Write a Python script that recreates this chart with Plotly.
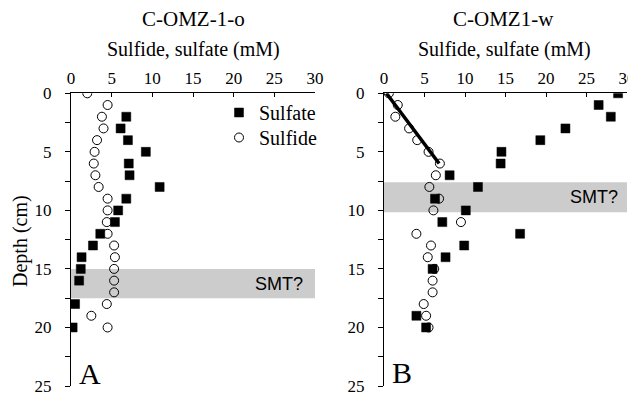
import plotly.graph_objects as go

# ---- Data ----
# Panel A: C-OMZ-1-o
a_sulfate_depth = [2, 3, 4, 5, 6, 7, 8, 9, 10, 11, 12, 13, 14, 15, 16, 18, 20]
a_sulfate_conc = [6.8, 6.1, 7.0, 9.2, 7.1, 7.2, 10.9, 6.8, 5.8, 5.4, 3.6, 2.7, 1.3, 1.2, 1.0, 0.5, 0.2]
a_sulfide_depth = [0, 1, 2, 3, 4, 5, 6, 7, 8, 9, 10, 11, 12, 13, 14, 15, 16, 17, 18, 19, 20]
a_sulfide_conc = [2.0, 4.5, 3.8, 4.0, 3.2, 2.9, 2.8, 3.0, 3.4, 4.5, 4.5, 4.4, 4.5, 5.3, 5.4, 5.3, 5.3, 5.3, 4.4, 2.5, 4.5]
a_smt = [15.0, 17.5]

# Panel B: C-OMZ1-w
b_sulfate_depth = [0, 1, 2, 3, 4, 5, 6, 7, 8, 9, 10, 11, 12, 13, 14, 15, 19, 20]
b_sulfate_conc = [28.9, 26.5, 28.0, 22.4, 19.3, 14.5, 14.4, 8.1, 11.6, 6.3, 10.1, 7.2, 16.8, 9.9, 7.6, 6.0, 4.0, 5.2]
b_sulfide_depth = [0, 1, 2, 3, 4, 5, 6, 7, 8, 9, 10, 11, 12, 13, 14, 15, 16, 17, 18, 19, 20]
b_sulfide_conc = [0.6, 1.7, 1.4, 3.1, 4.1, 5.5, 6.9, 6.4, 5.6, 6.8, 6.1, 9.5, 4.0, 5.8, 5.4, 6.2, 6.0, 6.0, 4.9, 5.2, 5.5]
b_fit_conc = [0.3, 6.8]
b_fit_depth = [0, 6]
b_smt = [7.6, 10.15]

titles = ["C-OMZ-1-o", "C-OMZ1-w"]
panel_labels = ["A", "B"]
x_title = "Sulfide, sulfate (mM)"
y_title = "Depth (cm)"
x_ticks = [0, 5, 10, 15, 20, 25, 30]
y_ticks = [0, 5, 10, 15, 20, 25]

# page is 636x399 with an 8px body margin -> figure occupies 628x391 starting at (8, 8)
OFF = 8
W, H = 636 - OFF, 399 - OFF
SERIF = "Liberation Serif"
SANS = "Liberation Sans"


def fx(px):
    return (px - OFF) / W


def fy(py):
    return 1 - (py - OFF) / H


fig = go.Figure()

sq = dict(symbol="square", size=9, color="black", line=dict(color="black", width=0.5))
ci = dict(symbol="circle-open", size=9, color="black", line=dict(color="black", width=1))

fig.add_trace(go.Scatter(x=a_sulfate_conc, y=a_sulfate_depth, mode="markers", marker=sq,
                         name="Sulfate", xaxis="x", yaxis="y", showlegend=True, legend="legend"))
fig.add_trace(go.Scatter(x=a_sulfide_conc, y=a_sulfide_depth, mode="markers", marker=ci,
                         name="Sulfide", xaxis="x", yaxis="y", showlegend=True, legend="legend2"))
fig.add_trace(go.Scatter(x=b_fit_conc, y=b_fit_depth, mode="lines", line=dict(color="black", width=3.5),
                         xaxis="x2", yaxis="y2", showlegend=False))
fig.add_trace(go.Scatter(x=b_sulfate_conc, y=b_sulfate_depth, mode="markers", marker=sq,
                         xaxis="x2", yaxis="y2", showlegend=False))
fig.add_trace(go.Scatter(x=b_sulfide_conc, y=b_sulfide_depth, mode="markers", marker=ci,
                         xaxis="x2", yaxis="y2", showlegend=False))

ydom = [fy(386), fy(93.3)]


def xax(domain, anchor):
    return dict(domain=domain, anchor=anchor, side="top", range=[0, 30], tickvals=x_ticks,
                ticks="inside", ticklen=4, tickwidth=1, tickcolor="black", showline=True,
                linecolor="black", linewidth=1, showgrid=False, zeroline=False, automargin=False,
                tickfont=dict(family=SERIF, size=17, color="black"), ticklabelstandoff=2)


def yax(anchor):
    return dict(domain=ydom, anchor=anchor, range=[25, 0], tickvals=y_ticks,
                ticks="outside", ticklen=5, tickwidth=1, tickcolor="black", showline=True,
                linecolor="black", linewidth=1, showgrid=False, zeroline=False, automargin=False,
                minor=dict(dtick=2.5, tick0=0, ticks="outside", ticklen=5, tickcolor="black"),
                tickfont=dict(family=SERIF, size=17, color="black"), ticklabelstandoff=10)


shapes = [
    dict(type="rect", xref="x", yref="y", x0=0, x1=30, y0=a_smt[0], y1=a_smt[1],
         fillcolor="#cccccc", line=dict(width=0), layer="below"),
    dict(type="rect", xref="x2", yref="y2", x0=0, x1=30, y0=b_smt[0], y1=b_smt[1],
         fillcolor="#cccccc", line=dict(width=0), layer="below"),
]

annotations = [
    dict(text=titles[0], x=fx(193), y=fy(19), xref="paper", yref="paper", showarrow=False,
         xanchor="center", yanchor="middle", font=dict(family=SERIF, size=21, color="black")),
    dict(text=titles[1], x=fx(503), y=fy(19), xref="paper", yref="paper", showarrow=False,
         xanchor="center", yanchor="middle", font=dict(family=SERIF, size=21, color="black")),
    dict(text=x_title, x=fx(193), y=fy(50), xref="paper", yref="paper", showarrow=False,
         xanchor="center", yanchor="middle", font=dict(family=SERIF, size=20, color="black")),
    dict(text=x_title, x=fx(504), y=fy(50), xref="paper", yref="paper", showarrow=False,
         xanchor="center", yanchor="middle", font=dict(family=SERIF, size=20, color="black")),
    dict(text=y_title, x=fx(20), y=fy(241), xref="paper", yref="paper", showarrow=False,
         textangle=-90, xanchor="center", yanchor="middle", font=dict(family=SERIF, size=20, color="black")),
    dict(text="SMT?", x=28.8, y=sum(a_smt) / 2, xref="x", yref="y", showarrow=False,
         xanchor="right", yanchor="middle", font=dict(family=SANS, size=18, color="black")),
    dict(text="SMT?", x=29.1, y=sum(b_smt) / 2, xref="x2", yref="y2", showarrow=False,
         xanchor="right", yanchor="middle", font=dict(family=SANS, size=18, color="black")),
    dict(text=panel_labels[0], x=fx(90), y=fy(373), xref="paper", yref="paper", showarrow=False,
         xanchor="center", yanchor="middle", font=dict(family=SERIF, size=30, color="black")),
    dict(text=panel_labels[1], x=fx(402), y=fy(372), xref="paper", yref="paper", showarrow=False,
         xanchor="center", yanchor="middle", font=dict(family=SERIF, size=30, color="black")),
]

leg_common = dict(xanchor="left", yanchor="top", bgcolor="rgba(0,0,0,0)",
                  font=dict(family=SERIF, size=20, color="black"), itemwidth=30)

fig.update_layout(
    width=W, height=H, margin=dict(l=0, r=0, t=0, b=0, autoexpand=False),
    paper_bgcolor="white", plot_bgcolor="white",
    xaxis=xax([fx(71), fx(315)], "y"),
    yaxis=yax("x"),
    xaxis2=xax([fx(384), fx(627)], "y2"),
    yaxis2=yax("x2"),
    shapes=shapes, annotations=annotations,
    legend=dict(x=fx(219), y=fy(93), **leg_common),
    legend2=dict(x=fx(219), y=fy(118), **leg_common),
)

fig.write_html("out.html")
